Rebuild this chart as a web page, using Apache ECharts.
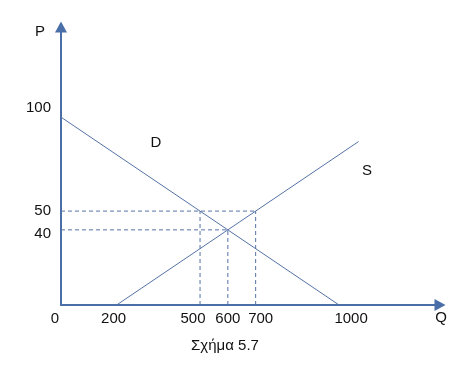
<!DOCTYPE html>
<html>
<head>
<meta charset="utf-8">
<script src="https://cdn.jsdelivr.net/npm/echarts@6/dist/echarts.min.js"></script>
<style>html,body{margin:0;padding:0;background:#fff;}#c{width:475px;height:367px;}</style>
</head>
<body>
<div id="c"></div>
<script>
// Data (Q, P)
var demand = [[0, 100], [1000, 0]];
var supply = [[200, 0], [1070, 87]];
var priceLevels = [50, 40];          // horizontal dashed guides
var guideQ50 = [500, 700];           // Q at P=50 (demand, supply)
var guideQ40 = [600];                // Q at P=40 (equilibrium)
var xTickLabels = [0, 200, 500, 600, 700, 1000];
var yTickLabels = [40, 50, 100];
var caption = 'Σχήμα 5.7';

var lineColor = '#5572a6';
var axisColor = '#4a6fa8';
var font = 'Liberation Sans, Arial, sans-serif';
var FS = 15;

// label nudges (style only): rich padding [top,right,bottom,left]
var xPad = { 0: [0, 12, 0, 0], 200: [0, 6, 0, 0], 500: [0, 14, 0, 0], 700: [0, 0, 0, 10], 1000: [0, 0, 0, 24] };
var yPad = { 100: [0, 0, 18, 0], 40: [8, 0, 0, 0] };

function rich(pads) {
  var r = {};
  Object.keys(pads).forEach(function (k) {
    r['p' + k] = { padding: pads[k], fontSize: FS, fontFamily: font, color: '#111' };
  });
  return r;
}
function fmt(pads) {
  return function (v) { return pads[v] ? '{p' + v + '|' + v + '}' : String(v); };
}

function seg(a, b) {
  return { type: 'line', data: [a, b], symbol: 'none', silent: true,
    lineStyle: { color: lineColor, width: 1, type: [4, 3] } };
}
var series = [
  { type: 'line', name: 'D', data: demand, symbol: 'none', lineStyle: { color: lineColor, width: 1 } },
  { type: 'line', name: 'S', data: supply, symbol: 'none', lineStyle: { color: lineColor, width: 1 } },
  seg([0, priceLevels[0]], [guideQ50[1], priceLevels[0]]),
  seg([0, priceLevels[1]], [guideQ40[0], priceLevels[1]]),
  seg([guideQ50[0], 0], [guideQ50[0], priceLevels[0]]),
  seg([guideQ50[1], 0], [guideQ50[1], priceLevels[0]]),
  seg([guideQ40[0], 0], [guideQ40[0], priceLevels[1]])
];

var chart = echarts.init(document.getElementById('c'), null, { renderer: 'canvas' });
chart.setOption({
  animation: false,
  backgroundColor: '#fff',
  grid: { left: 61, top: 27, width: 379, height: 278 },
  xAxis: {
    type: 'value', min: 0, max: 1363,
    splitLine: { show: false },
    axisTick: { show: false },
    axisLine: { lineStyle: { color: axisColor, width: 2 }, symbol: ['none', 'triangle'], symbolSize: [12, 11] },
    axisLabel: { customValues: xTickLabels, color: '#111', fontFamily: font, fontSize: FS, margin: 6,
      formatter: fmt(xPad), rich: rich(xPad) }
  },
  yAxis: {
    type: 'value', min: 0, max: 148,
    splitLine: { show: false },
    axisTick: { show: false },
    axisLine: { lineStyle: { color: axisColor, width: 2 }, symbol: ['none', 'triangle'], symbolSize: [12, 11] },
    axisLabel: { customValues: yTickLabels, color: '#111', fontFamily: font, fontSize: FS, margin: 10,
      formatter: fmt(yPad), rich: rich(yPad) }
  },
  graphic: [
    { type: 'text', x: 40, y: 32, style: { text: 'P', fill: '#111', font: FS + 'px ' + font, align: 'center', verticalAlign: 'middle' } },
    { type: 'text', x: 441, y: 318, style: { text: 'Q', fill: '#111', font: FS + 'px ' + font, align: 'center', verticalAlign: 'middle' } },
    { type: 'text', x: 156, y: 143, style: { text: 'D', fill: '#111', font: FS + 'px ' + font, align: 'center', verticalAlign: 'middle' } },
    { type: 'text', x: 367, y: 171, style: { text: 'S', fill: '#111', font: FS + 'px ' + font, align: 'center', verticalAlign: 'middle' } },
    { type: 'text', x: 225, y: 346, style: { text: caption, fill: '#111', font: FS + 'px ' + font, align: 'center', verticalAlign: 'middle' } }
  ],
  series: series
});
</script>
</body>
</html>
